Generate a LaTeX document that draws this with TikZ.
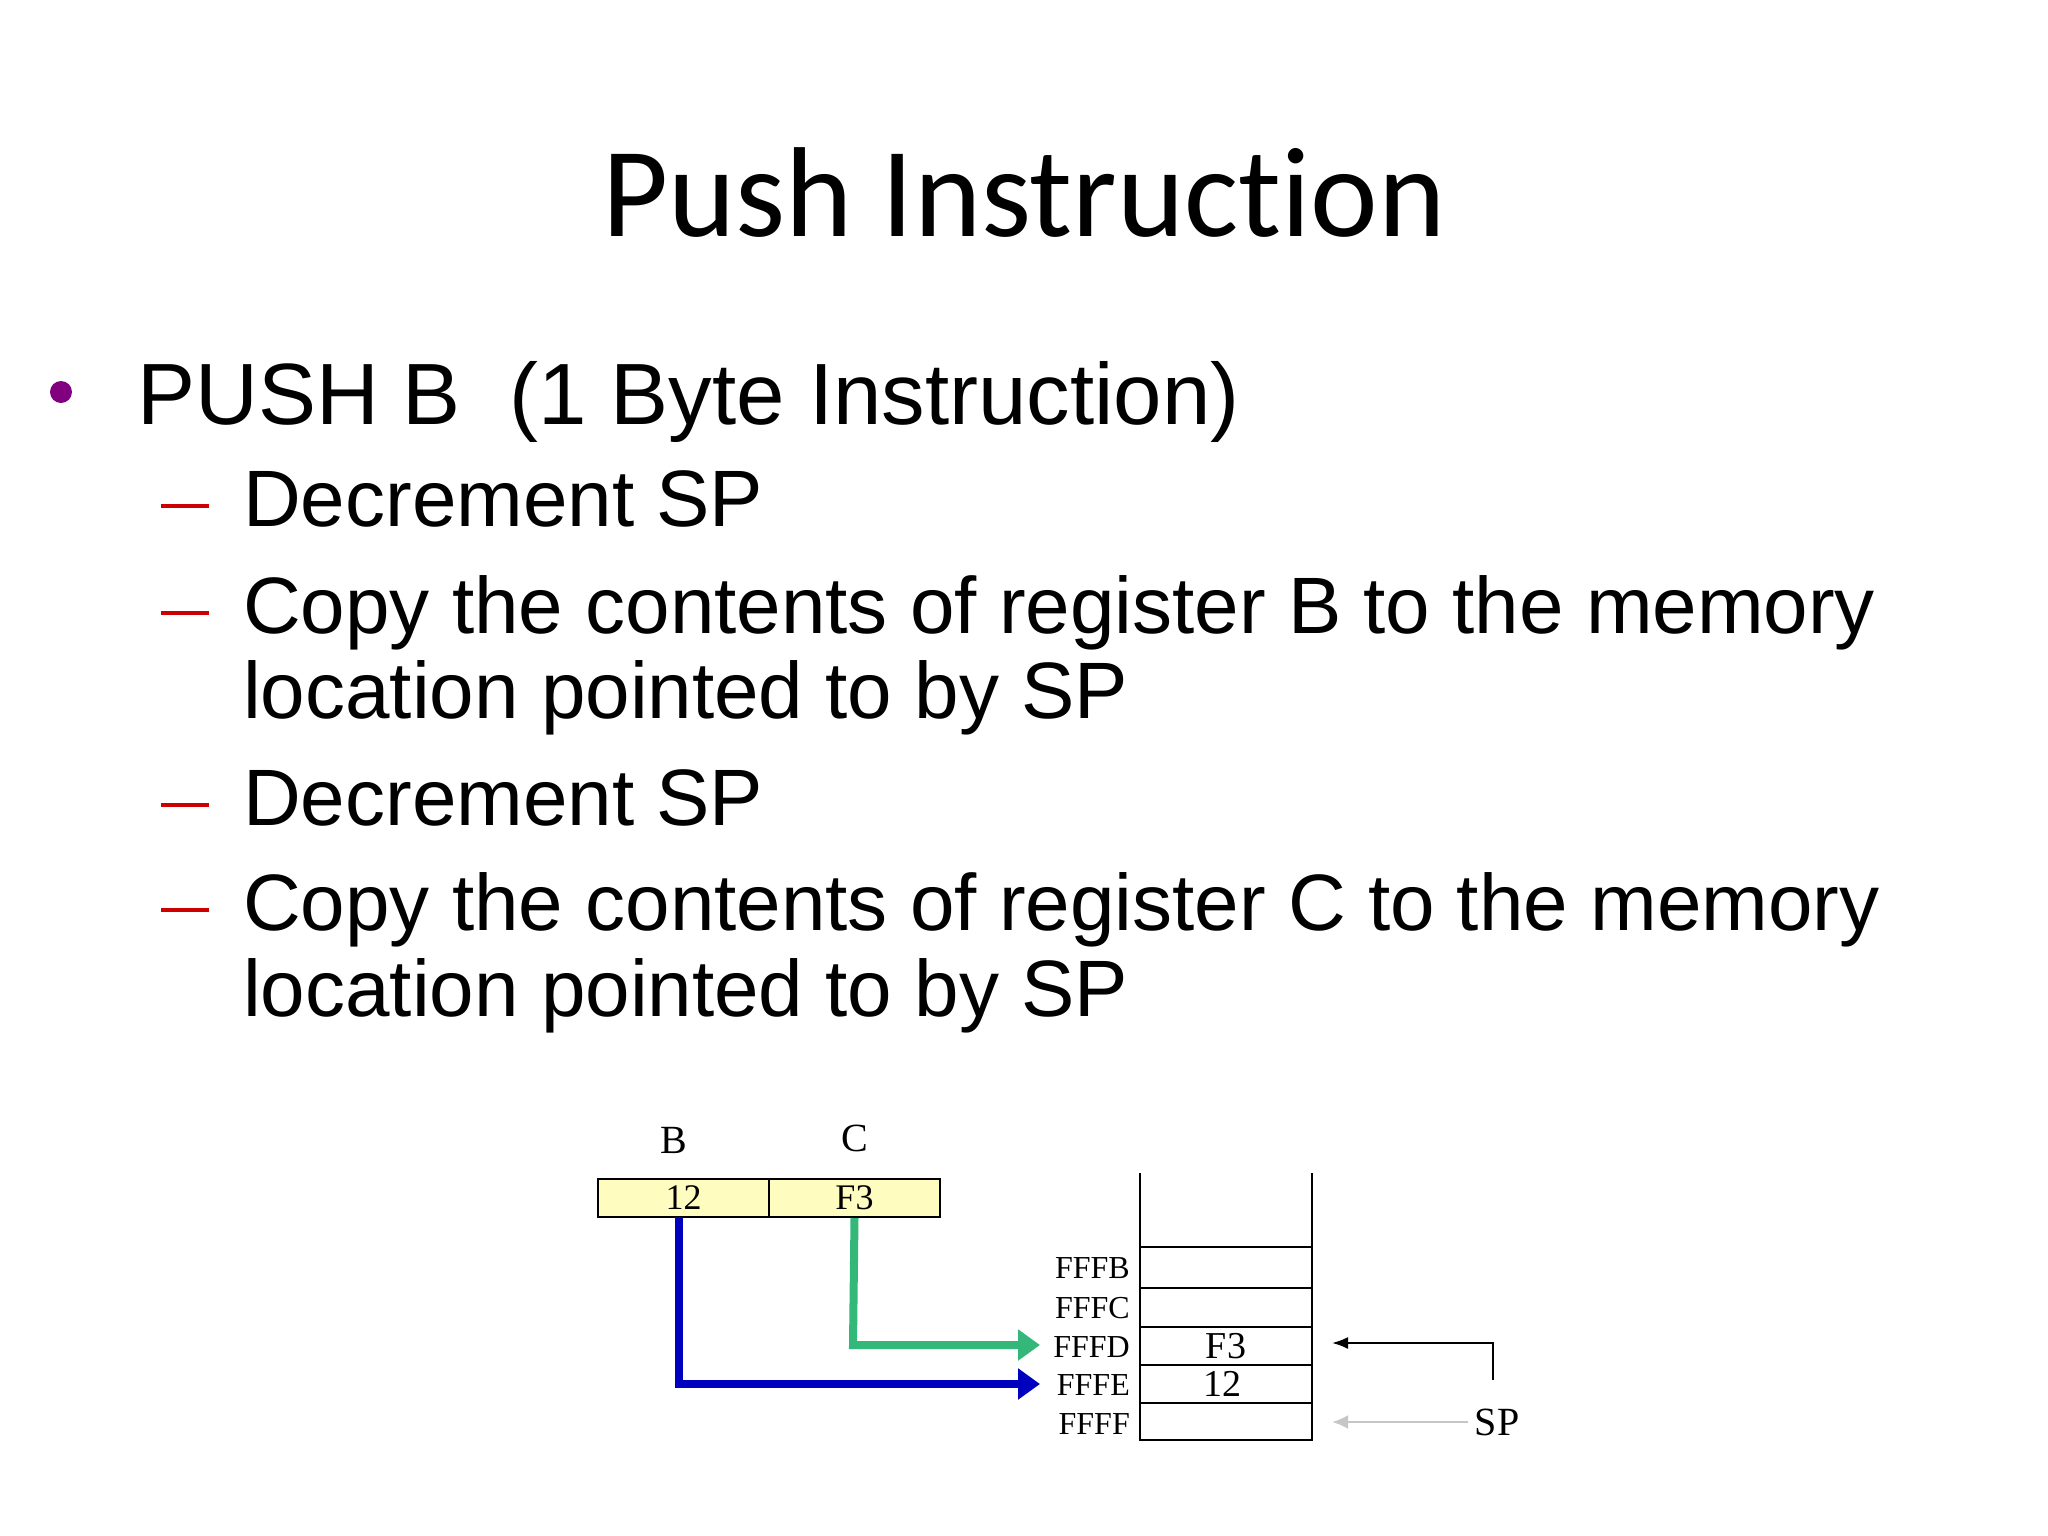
\documentclass[tikz,border=0pt]{standalone}
\usepackage{fontspec}
\setmainfont{Liberation Sans}
\newfontfamily\titlefont[Ligatures={NoCommon}]{Carlito}
\newfontfamily\tnr{Liberation Serif}
\usetikzlibrary{arrows.meta}
\begin{document}
\begin{tikzpicture}[x=1pt,y=-1pt,
  txt/.style={anchor=base west,inner sep=0,font=\fontsize{80}{84}\selectfont},
  dsh/.style={draw=red!80!black,line width=4pt},
  addr/.style={anchor=east,inner sep=0,font=\tnr\fontsize{32}{33}\selectfont},
  reg/.style={draw,line width=2pt,fill=yellow!25,minimum height=38pt,inner sep=0,font=\tnr\fontsize{36}{38}\selectfont},
  fat/.style={line width=8pt,-{Triangle[length=22pt,width=30pt]}}]
\useasboundingbox[fill=white] (0,0) rectangle (2048,1536);
\node[inner sep=0,font=\titlefont\fontsize{128}{130}\selectfont] (title) at (1024,193) {Push Instruct\kern0pt ion};
\fill[violet] (61,392) circle (11);
\node[txt,font=\fontsize{87}{90}\selectfont] (l0) at (137,424) {PUSH B\ \ (1 Byte Instruction)};
\foreach \y/\t [count=\i] in {526/Decrement SP,633/Copy the contents of register B to the memory,718/location pointed to by SP,825/Decrement SP,930/Copy the contents of register C to the memory,1016/location pointed to by SP}
  \node[txt] (l\i) at (243,\y) {\t};
\foreach \y in {506,613,805,910} \draw[dsh] (161,\y) -- (209,\y);
% registers
\node[reg,minimum width=171pt] (rb) at (683.5,1198) {12};
\node[reg,minimum width=171pt] (rc) at (854.5,1198) {F3};
\node[font=\tnr\fontsize{40}{42}\selectfont] (lb) at (674,1140) {B};
\node[font=\tnr\fontsize{40}{42}\selectfont] (lc) at (855,1138) {C};
% stack
\draw[line width=2pt] (1140,1173) -- (1140,1440) -- (1312,1440) -- (1312,1173);
\foreach \y in {1247,1288,1327,1365,1403} \draw[line width=2pt] (1140,\y) -- (1312,\y);
\node[addr] (a1) at (1130,1268) {FFFB};
\node[addr] (a2) at (1130,1308) {FFFC};
\node[addr] (a3) at (1130,1347) {FFFD};
\node[addr] (a4) at (1130,1385) {FFFE};
\node[addr] (a5) at (1130,1424) {FFFF};
\node[font=\tnr\fontsize{38}{40}\selectfont] (vf3) at (1226,1346) {F3};
\node[font=\tnr\fontsize{38}{40}\selectfont] (v12) at (1222,1384) {12};
\coordinate (t3) at (1040,1345);
\coordinate (t4) at (1040,1384);
\draw[fat,draw=teal!70!green!80] (rc.south) -- (853,1345) -- (t3);
\draw[fat,draw=blue!75!black] (679,1217) -- (679,1384) -- (t4);
\node[font=\tnr\fontsize{40}{42}\selectfont] (sp) at (1497,1422) {SP};
\draw[line width=2pt,-{Latex[length=16pt,width=12pt]}] (1493,1380) -- (1493,1343) -- (1332,1343);
\draw[line width=2.5pt,gray!45,-{Latex[length=16pt,width=14pt]}] (1468,1422) -- (1332,1422);
\end{tikzpicture}
\end{document}
